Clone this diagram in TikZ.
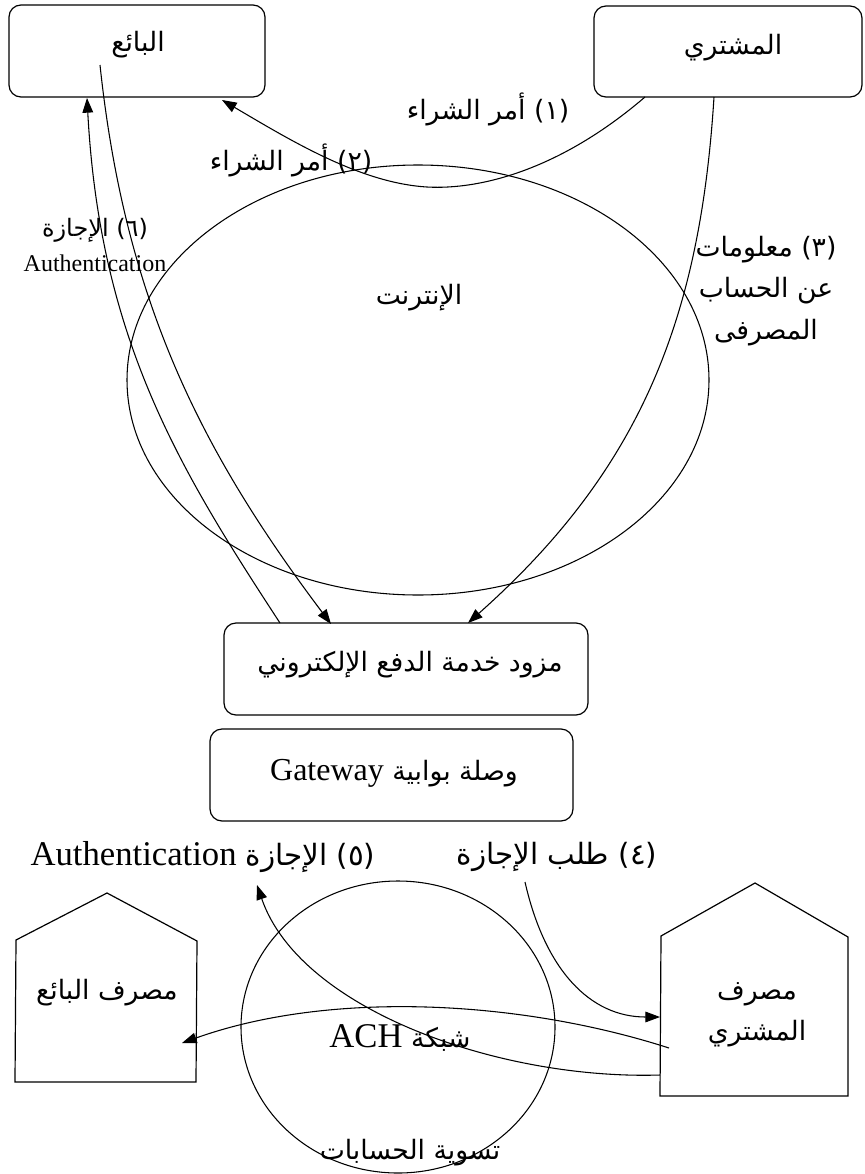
\documentclass[tikz,border=0pt]{standalone}
\usepackage{fontspec}
\setmainfont{Liberation Serif}
\newfontfamily\arfont[Script=Arabic]{DejaVu Sans}
\TeXXeTstate=1
\usetikzlibrary{arrows.meta,shapes.geometric}
\begin{document}
\begin{tikzpicture}[x=0.75pt,y=-0.75pt,
  box/.style={draw,line width=0.9pt,rounded corners=9pt,inner sep=0pt},
  conn/.style={line width=0.8pt},
  arr/.style={conn,-{Triangle[length=11pt,width=8pt]}},
  ar/.style={font=\arfont\fontsize{20}{31}\selectfont,inner sep=0pt,align=center},
  arbig/.style={font=\arfont\fontsize{22}{26}\selectfont,inner sep=0pt},
  arsmall/.style={font=\arfont\fontsize{18}{22}\selectfont,inner sep=0pt},
  la/.style={font=\rmfamily\fontsize{18}{22}\selectfont,inner sep=0pt}]
\useasboundingbox (0,0) rectangle (864,1174);

% boxes
\node[box,minimum width=192pt,minimum height=69pt] (seller) at (137,51) {};
\node[box,minimum width=201pt,minimum height=68.25pt] (buyer) at (728,51.5) {};
\node[box,minimum width=273pt,minimum height=69pt] (provider) at (406,669) {};
\node[box,minimum width=272.25pt,minimum height=69pt] (gateway) at (391.5,775) {};
\node[draw,line width=0.8pt,ellipse,inner sep=0pt,minimum width=436.5pt,minimum height=322.5pt] (internet) at (418,380) {};
\node[draw,line width=0.8pt,ellipse,inner sep=0pt,minimum width=235.5pt,minimum height=219pt] (ach) at (398,1027) {};

% banks
\draw[line width=0.9pt] (15,1082)--(16,940)--(107,893)--(197,941)--(196,1082)--cycle;
\draw[line width=0.9pt] (660,1096)--(661,936)--(755,883)--(848,937)--(848,1096)--cycle;

% texts
\node[ar] (tseller) at (138,45) {\beginR البائع\endR};
\node[ar] (tbuyer) at (733,48) {\beginR المشتري\endR};
\node[ar] (tinternet) at (419,298) {\beginR الإنترنت\endR};
\node[ar] (tprovider) at (410,665) {\beginR مزود خدمة الدفع الإلكتروني\endR};
\node[ar] (tgateway) at (394,773) {\beginR وصلة بوابية \beginL{\rmfamily\fontsize{24}{28}\selectfont Gateway}\endL\endR};
\node[ar] (tsbank) at (107,993) {\beginR مصرف البائع\endR};
\node[ar] (tbbank) at (757,1015) {\beginR مصرف\endR\\\beginR المشتري\endR};
\node[ar] (tach) at (400,1038) {\beginR شبكة \beginL{\rmfamily\fontsize{26}{30}\selectfont ACH}\endL\endR};
\node[ar] (tsettle) at (410,1153) {\beginR تسوية الحسابات\endR};

\node[ar] (l1) at (488,109) {\beginR (١) أمر الشراء\endR};
\node[ar] (l2) at (291,160) {\beginR (٢) أمر الشراء\endR};
\node[ar] (l3) at (766,291) {\beginR (٣) معلومات\endR\\\beginR عن الحساب\endR\\\beginR المصرفى\endR};
\node[arsmall] (l6) at (95,230) {\beginR (٦) الإجازة\endR};
\node[la] (l6b) at (95,263) {Authentication};
\node[arbig] (l5) at (203,857) {\beginR (٥) الإجازة \beginL{\rmfamily\fontsize{26}{30}\selectfont Authentication}\endL\endR};
\node[arbig] (l4) at (557,857) {\beginR (٤) طلب الإجازة\endR};

% connector end points
\coordinate (b1) at (645,97);
\coordinate (b3) at (714,97);
\coordinate (s2) at (222,100);
\coordinate (s6) at (87,98);
\coordinate (sin) at (100,65);
\coordinate (p6) at (280,623);
\coordinate (pin) at (331,624);
\coordinate (p3) at (468,623);
\coordinate (c4s) at (525,882);
\coordinate (bb4) at (660,1017);
\coordinate (bb5) at (660,1075);
\coordinate (a5) at (257,885);
\coordinate (bbin) at (669,1048);
\coordinate (sbin) at (182,1043);

% connectors
\draw[arr] (b1) .. controls (560,170) and (480,190) .. (427,187)
  .. controls (360,183) and (290,140) .. (s2);
\draw[arr] (b3) .. controls (700,320) and (640,470) .. (p3);
\draw[arr] (p6) .. controls (180,470) and (100,340) .. (s6);
\draw[arr] (sin) .. controls (125,300) and (200,450) .. (pin);
\draw[arr] (c4s) .. controls (545,970) and (590,1017) .. (bb4);
\draw[arr] (bb5) .. controls (500,1080) and (300,1010) .. (a5);
\draw[arr] (bbin) .. controls (520,1000) and (330,990) .. (sbin);
\end{tikzpicture}
\end{document}
